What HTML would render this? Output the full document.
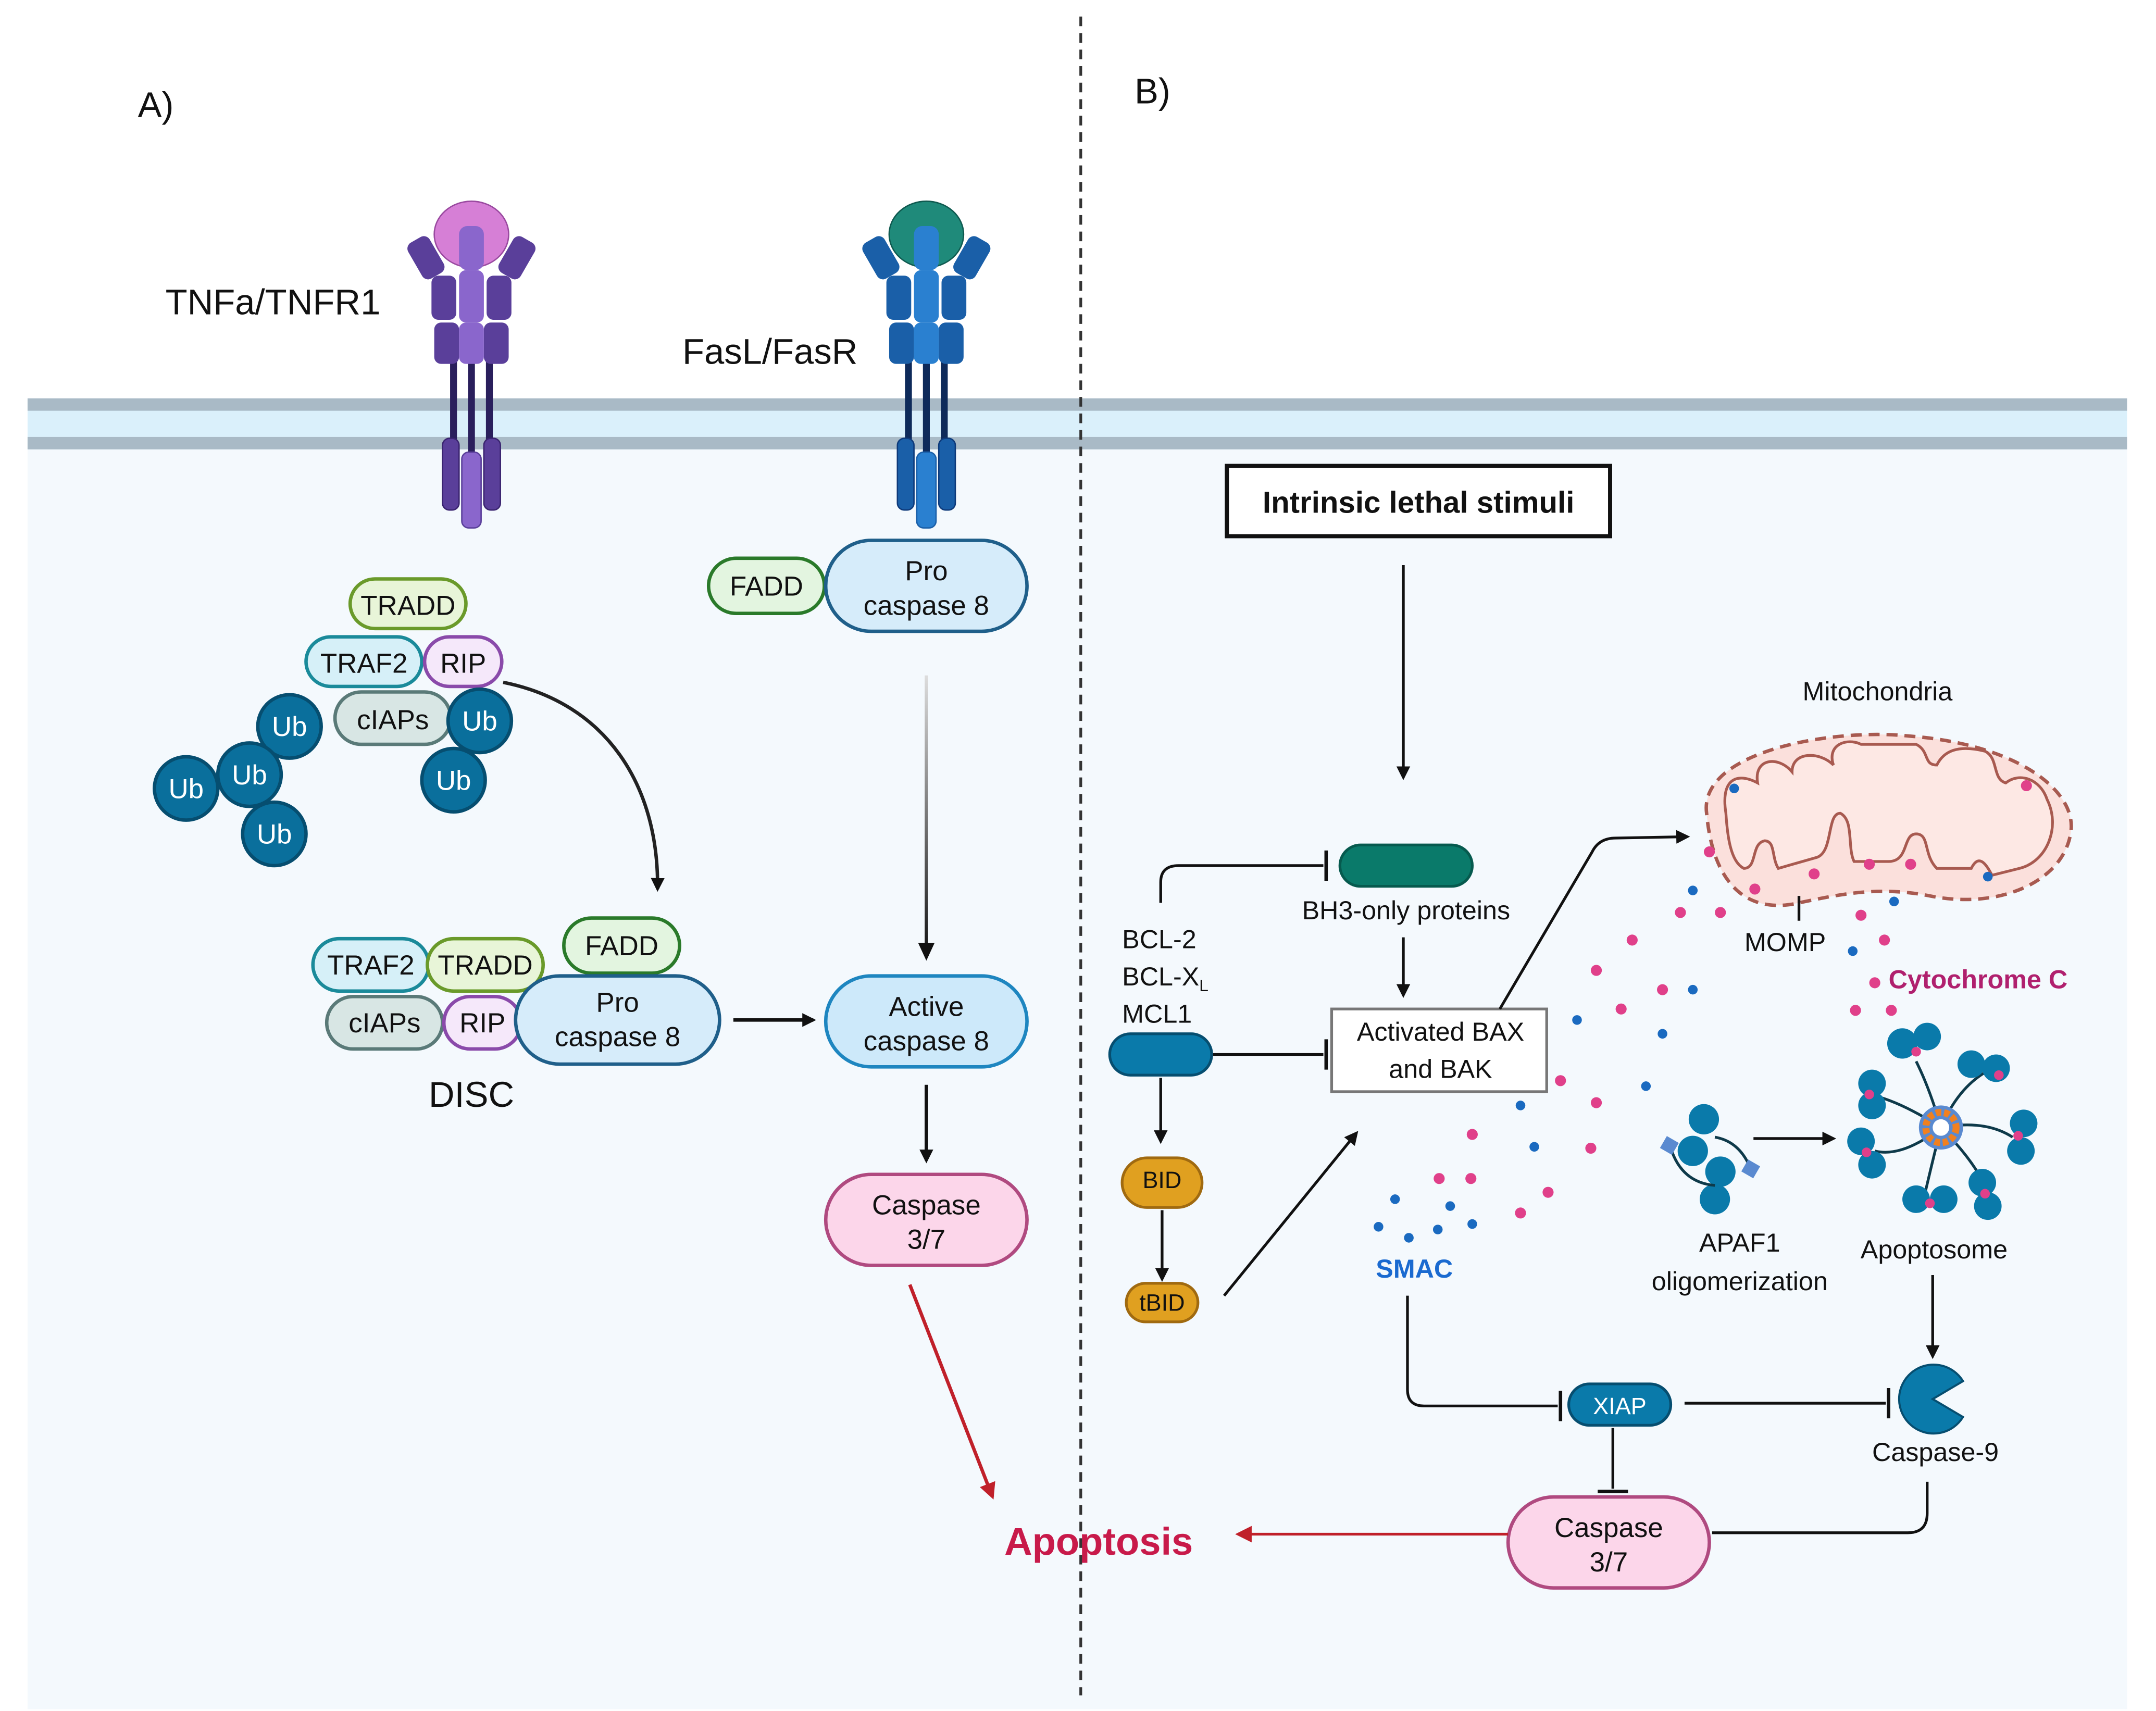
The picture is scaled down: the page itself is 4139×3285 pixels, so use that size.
<!DOCTYPE html>
<html><head><meta charset="utf-8"><style>
html,body{margin:0;padding:0;background:#fff}
svg{display:block}
text{font-family:"Liberation Sans",sans-serif;fill:#111}
</style></head><body>
<svg width="4139" height="3285" viewBox="0 0 1564 1241.3" xmlns="http://www.w3.org/2000/svg">
<defs>
<marker id="ah" markerWidth="10" markerHeight="10" refX="8" refY="5" orient="auto" markerUnits="userSpaceOnUse"><path d="M0,0 L10,5 L0,10 z" fill="#111"/></marker>
<marker id="ahr" markerWidth="12" markerHeight="12" refX="10" refY="6" orient="auto" markerUnits="userSpaceOnUse"><path d="M0,0 L12,6 L0,12 z" fill="#c0202a"/></marker>
<linearGradient id="gv" gradientUnits="userSpaceOnUse" x1="672" y1="490" x2="672" y2="695"><stop offset="0" stop-color="#ddd"/><stop offset="1" stop-color="#111"/></linearGradient>
</defs>
<rect x="0" y="0" width="1564" height="1242" fill="#fff"/>
<rect x="20" y="326" width="1523" height="914" fill="#f4f9fd"/>
<rect x="20" y="289" width="1523" height="37" fill="#daf0fb"/>
<rect x="20" y="289" width="1523" height="9" fill="#a9bac6"/>
<rect x="20" y="317" width="1523" height="9" fill="#a9bac6"/>
<line x1="784" y1="12" x2="784" y2="1230" stroke="#333" stroke-width="2" stroke-dasharray="7,5"/>

<text x="100" y="85" font-size="26">A)</text>
<text x="823" y="75" font-size="26">B)</text>
<text x="120" y="228" font-size="26">TNFa/TNFR1</text>
<text x="495" y="264" font-size="26">FasL/FasR</text>

<!-- TNFR1 -->
<g>
<line x1="329" y1="255" x2="329" y2="330" stroke="#2a1f5c" stroke-width="5"/>
<line x1="342" y1="255" x2="342" y2="330" stroke="#2a1f5c" stroke-width="5"/>
<line x1="355" y1="255" x2="355" y2="330" stroke="#2a1f5c" stroke-width="5"/>
<rect x="321" y="318" width="12" height="52" rx="5" fill="#5a3f9a" stroke="#3a2470"/>
<rect x="351" y="318" width="12" height="52" rx="5" fill="#5a3f9a" stroke="#3a2470"/>
<rect x="335" y="328" width="14" height="55" rx="5" fill="#8a66cc" stroke="#5a3f9a"/>
<rect x="300" y="172" width="18" height="30" rx="5" fill="#5a3f9a" transform="rotate(-30 309 187)"/>
<rect x="366" y="172" width="18" height="30" rx="5" fill="#5a3f9a" transform="rotate(30 375 187)"/>
<rect x="313" y="200" width="18" height="32" rx="5" fill="#5a3f9a"/>
<rect x="353" y="200" width="18" height="32" rx="5" fill="#5a3f9a"/>
<rect x="333" y="196" width="18" height="38" rx="5" fill="#8a66cc"/>
<rect x="315" y="234" width="18" height="30" rx="5" fill="#5a3f9a"/>
<rect x="351" y="234" width="18" height="30" rx="5" fill="#5a3f9a"/>
<rect x="333" y="234" width="18" height="30" rx="5" fill="#8a66cc"/>
<ellipse cx="342" cy="170" rx="27" ry="24" fill="#d67fd6" stroke="#9a4aa0"/>
<rect x="333" y="164" width="18" height="32" rx="6" fill="#8a66cc"/>
</g>
<!-- FasR -->
<g>
<line x1="659" y1="255" x2="659" y2="330" stroke="#0e2a5a" stroke-width="5"/>
<line x1="672" y1="255" x2="672" y2="330" stroke="#0e2a5a" stroke-width="5"/>
<line x1="685" y1="255" x2="685" y2="330" stroke="#0e2a5a" stroke-width="5"/>
<rect x="651" y="318" width="12" height="52" rx="5" fill="#1a5fa8" stroke="#0e3a7a"/>
<rect x="681" y="318" width="12" height="52" rx="5" fill="#1a5fa8" stroke="#0e3a7a"/>
<rect x="665" y="328" width="14" height="55" rx="5" fill="#2a80d0" stroke="#1a5fa8"/>
<rect x="630" y="172" width="18" height="30" rx="5" fill="#1a5fa8" transform="rotate(-30 639 187)"/>
<rect x="696" y="172" width="18" height="30" rx="5" fill="#1a5fa8" transform="rotate(30 705 187)"/>
<rect x="643" y="200" width="18" height="32" rx="5" fill="#1a5fa8"/>
<rect x="683" y="200" width="18" height="32" rx="5" fill="#1a5fa8"/>
<rect x="663" y="196" width="18" height="38" rx="5" fill="#2a80d0"/>
<rect x="645" y="234" width="18" height="30" rx="5" fill="#1a5fa8"/>
<rect x="681" y="234" width="18" height="30" rx="5" fill="#1a5fa8"/>
<rect x="663" y="234" width="18" height="30" rx="5" fill="#2a80d0"/>
<ellipse cx="672" cy="170" rx="27" ry="24" fill="#1f8a7a" stroke="#0f5a50"/>
<rect x="663" y="164" width="18" height="32" rx="6" fill="#2a80d0"/>
</g>

<!-- complex 1 -->
<g stroke-width="2.5" font-size="20" text-anchor="middle">
<rect x="254" y="420" width="84" height="36" rx="18" fill="#e8f5d8" stroke="#6a9a2a"/><text x="296" y="446">TRADD</text>
<rect x="222" y="462" width="84" height="36" rx="18" fill="#d6f0f8" stroke="#1a8a9a"/><text x="264" y="488">TRAF2</text>
<rect x="308" y="462" width="56" height="36" rx="18" fill="#f5e8fa" stroke="#8a4aaa"/><text x="336" y="488">RIP</text>
<rect x="243" y="502" width="84" height="38" rx="19" fill="#d8e6e4" stroke="#5a7a78"/><text x="285" y="529">cIAPs</text>
</g>
<g fill="#0a6f9c" stroke="#064e70" stroke-width="2.5">
<circle cx="210" cy="527" r="23"/><circle cx="348" cy="523" r="23"/><circle cx="181" cy="562" r="23"/><circle cx="135" cy="572" r="23"/><circle cx="329" cy="566" r="23"/><circle cx="199" cy="605" r="23"/>
</g>
<g font-size="20" text-anchor="middle">
<text x="210" y="534" style="fill:#fff">Ub</text><text x="348" y="530" style="fill:#fff">Ub</text><text x="181" y="569" style="fill:#fff">Ub</text><text x="135" y="579" style="fill:#fff">Ub</text><text x="329" y="573" style="fill:#fff">Ub</text><text x="199" y="612" style="fill:#fff">Ub</text>
</g>
<path d="M365,495 C440,510 478,570 477,645" fill="none" stroke="#222" stroke-width="2.5" marker-end="url(#ah)"/>

<!-- DISC -->
<g stroke-width="2.5" font-size="20" text-anchor="middle">
<rect x="227" y="681" width="84" height="38" rx="19" fill="#d6f0f8" stroke="#1a8a9a"/><text x="269" y="707">TRAF2</text>
<rect x="310" y="681" width="84" height="38" rx="19" fill="#e8f5d8" stroke="#6a9a2a"/><text x="352" y="707">TRADD</text>
<rect x="409" y="666" width="84" height="40" rx="20" fill="#e3f5e0" stroke="#2a7a2a"/><text x="451" y="693">FADD</text>
<rect x="237" y="723" width="84" height="38" rx="19" fill="#d8e6e4" stroke="#5a7a78"/><text x="279" y="749">cIAPs</text>
<rect x="322" y="723" width="56" height="38" rx="19" fill="#f5e8fa" stroke="#8a4aaa"/><text x="350" y="749">RIP</text>
<rect x="374" y="708" width="148" height="64" rx="32" fill="#d6ecfa" stroke="#1f5f8a"/><text x="448" y="734">Pro</text><text x="448" y="759">caspase 8</text>
</g>
<text x="342" y="803" font-size="26" text-anchor="middle">DISC</text>
<line x1="532" y1="740" x2="590" y2="740" stroke="#111" stroke-width="2.5" marker-end="url(#ah)"/>

<!-- Fas pathway -->
<g stroke-width="2.5" font-size="20" text-anchor="middle">
<rect x="514" y="405" width="84" height="40" rx="20" fill="#e3f5e0" stroke="#2a7a2a"/><text x="556" y="432">FADD</text>
<rect x="599" y="392" width="146" height="66" rx="33" fill="#d6ecfa" stroke="#1f5f8a"/><text x="672" y="421">Pro</text><text x="672" y="446">caspase 8</text>
<rect x="599" y="708" width="146" height="66" rx="33" fill="#cde9fa" stroke="#1e86c0"/><text x="672" y="737">Active</text><text x="672" y="762">caspase 8</text>
<rect x="599" y="852" width="146" height="66" rx="33" fill="#fcd6ea" stroke="#b04a80"/><text x="672" y="881">Caspase</text><text x="672" y="906">3/7</text>
</g>
<rect x="670.8" y="490" width="2.4" height="195" fill="url(#gv)"/>
<path d="M666,684 L672,697 L678,684 z" fill="#111"/>
<line x1="672" y1="787" x2="672" y2="842" stroke="#111" stroke-width="2.5" marker-end="url(#ah)"/>
<line x1="660" y1="932" x2="720" y2="1086" stroke="#c0202a" stroke-width="2.5" marker-end="url(#ahr)"/>
<text x="797" y="1128" font-size="28" font-weight="bold" text-anchor="middle" style="fill:#c81a4a">Apoptosis</text>

<!-- B -->
<rect x="890" y="338" width="278" height="51" fill="#fff" stroke="#111" stroke-width="3"/>
<text x="1029" y="372" font-size="22" font-weight="bold" text-anchor="middle">Intrinsic lethal stimuli</text>
<line x1="1018" y1="410" x2="1018" y2="564" stroke="#111" stroke-width="2" marker-end="url(#ah)"/>
<rect x="972" y="613" width="96" height="30" rx="15" fill="#0a7a6a" stroke="#065a4e" stroke-width="2"/>
<text x="1020" y="667" font-size="19" text-anchor="middle">BH3-only proteins</text>
<path d="M842,655 L842,640 Q842,628 855,628 L960,628" fill="none" stroke="#111" stroke-width="2"/>
<line x1="962" y1="617" x2="962" y2="639" stroke="#111" stroke-width="2.5"/>
<text x="814" y="688" font-size="19">BCL-2</text>
<text x="814" y="715" font-size="19">BCL-X<tspan font-size="12" dy="4">L</tspan></text>
<text x="814" y="742" font-size="19">MCL1</text>
<rect x="805" y="750" width="74" height="30" rx="15" fill="#0a7aaa" stroke="#064e70" stroke-width="2"/>
<line x1="880" y1="765" x2="960" y2="765" stroke="#111" stroke-width="2"/>
<line x1="962" y1="754" x2="962" y2="776" stroke="#111" stroke-width="2.5"/>
<rect x="966" y="732" width="156" height="60" fill="#fff" stroke="#777" stroke-width="2"/>
<text x="1045" y="755" font-size="19" text-anchor="middle">Activated BAX</text>
<text x="1045" y="782" font-size="19" text-anchor="middle">and BAK</text>
<line x1="1018" y1="680" x2="1018" y2="722" stroke="#111" stroke-width="2" marker-end="url(#ah)"/>
<line x1="842" y1="782" x2="842" y2="828" stroke="#111" stroke-width="2" marker-end="url(#ah)"/>
<rect x="814" y="840" width="58" height="36" rx="18" fill="#e0a020" stroke="#a06a10" stroke-width="2"/>
<text x="843" y="862" font-size="17" text-anchor="middle">BID</text>
<line x1="843" y1="878" x2="843" y2="928" stroke="#111" stroke-width="2" marker-end="url(#ah)"/>
<rect x="817" y="931" width="52" height="28" rx="14" fill="#e0a020" stroke="#a06a10" stroke-width="2"/>
<text x="843" y="951" font-size="17" text-anchor="middle">tBID</text>
<line x1="888" y1="940" x2="984" y2="822" stroke="#111" stroke-width="2" marker-end="url(#ah)"/>
<path d="M1088,732 L1155,618 Q1160,608 1172,608 L1224,607" fill="none" stroke="#111" stroke-width="2" marker-end="url(#ah)"/>

<!-- mitochondria -->
<path d="M1238,590 C1232,545 1330,528 1385,534 C1465,540 1508,575 1502,605 C1496,640 1450,660 1400,650 C1360,642 1330,650 1300,656 C1262,662 1242,635 1238,590 Z" fill="#fbe0dc" stroke="#a85a50" stroke-width="2.5" stroke-dasharray="8,5"/>
<path d="M1252,590 C1248,565 1260,560 1275,568 C1272,550 1290,548 1300,560 C1300,545 1320,545 1330,555 C1325,540 1340,535 1350,540 L1390,540 C1400,545 1395,555 1405,555 C1410,545 1420,540 1440,545 C1450,550 1445,565 1455,568 C1465,560 1480,565 1485,580 C1495,600 1485,625 1465,630 L1445,635 C1440,625 1435,620 1430,630 L1405,630 C1395,620 1400,605 1390,605 C1380,605 1385,625 1370,625 L1345,625 C1340,615 1345,595 1335,590 C1325,590 1330,618 1318,622 L1290,630 C1285,622 1288,610 1280,610 C1270,612 1275,630 1265,630 C1255,625 1253,605 1252,590 Z" fill="#fde8e4" stroke="#a85a50" stroke-width="2"/>
<text x="1362" y="508" font-size="19" text-anchor="middle">Mitochondria</text>
<line x1="1305" y1="650" x2="1305" y2="668" stroke="#111" stroke-width="2"/>
<text x="1295" y="690" font-size="19" text-anchor="middle">MOMP</text>
<text x="1370" y="717" font-size="19" font-weight="bold" style="fill:#b0206e">Cytochrome C</text>
<text x="1026" y="927" font-size="19" font-weight="bold" text-anchor="middle" style="fill:#1a6ad0">SMAC</text>

<g fill="#e0408a">
<circle cx="1240" cy="618" r="4"/><circle cx="1273" cy="645" r="4"/><circle cx="1316" cy="634" r="4"/><circle cx="1356" cy="627" r="4"/><circle cx="1386" cy="627" r="4"/><circle cx="1470" cy="570" r="4"/>
<circle cx="1219" cy="662" r="4"/><circle cx="1248" cy="662" r="4"/><circle cx="1350" cy="664" r="4"/><circle cx="1367" cy="682" r="4"/><circle cx="1360" cy="713" r="4"/><circle cx="1346" cy="733" r="4"/><circle cx="1372" cy="733" r="4"/>
<circle cx="1184" cy="682" r="4"/><circle cx="1158" cy="704" r="4"/><circle cx="1206" cy="718" r="4"/><circle cx="1176" cy="732" r="4"/><circle cx="1132" cy="784" r="4"/><circle cx="1158" cy="800" r="4"/><circle cx="1068" cy="823" r="4"/><circle cx="1154" cy="833" r="4"/><circle cx="1044" cy="855" r="4"/><circle cx="1067" cy="855" r="4"/><circle cx="1123" cy="865" r="4"/><circle cx="1103" cy="880" r="4"/>
</g>
<g fill="#1a6ac0">
<circle cx="1258" cy="572" r="3.5"/><circle cx="1442" cy="636" r="3.5"/><circle cx="1228" cy="646" r="3.5"/><circle cx="1374" cy="654" r="3.5"/><circle cx="1344" cy="690" r="3.5"/><circle cx="1228" cy="718" r="3.5"/><circle cx="1144" cy="740" r="3.5"/><circle cx="1206" cy="750" r="3.5"/><circle cx="1194" cy="788" r="3.5"/><circle cx="1103" cy="802" r="3.5"/><circle cx="1113" cy="832" r="3.5"/><circle cx="1012" cy="870" r="3.5"/><circle cx="1052" cy="875" r="3.5"/><circle cx="1000" cy="890" r="3.5"/><circle cx="1022" cy="898" r="3.5"/><circle cx="1043" cy="892" r="3.5"/><circle cx="1068" cy="888" r="3.5"/>
</g>

<!-- APAF1 -->
<g fill="#0a7aaa">
<circle cx="1236" cy="812" r="11"/><circle cx="1228" cy="835" r="11"/><circle cx="1248" cy="850" r="11"/><circle cx="1244" cy="870" r="11"/>
</g>
<path d="M1212,833 Q1220,858 1244,860 M1244,825 Q1262,828 1270,848" fill="none" stroke="#0e3a4a" stroke-width="2"/>
<rect x="1206" y="826" width="10" height="10" fill="#5a8ad0" transform="rotate(30 1211 831)"/>
<rect x="1265" y="843" width="10" height="10" fill="#5a8ad0" transform="rotate(30 1270 848)"/>
<text x="1262" y="908" font-size="19" text-anchor="middle">APAF1</text>
<text x="1262" y="936" font-size="19" text-anchor="middle">oligomerization</text>
<line x1="1272" y1="826" x2="1330" y2="826" stroke="#111" stroke-width="2" marker-end="url(#ah)"/>

<!-- Apoptosome -->
<g stroke="#0e3a4a" stroke-width="2" fill="none">
<path d="M1408,818 Q1400,790 1390,770"/><path d="M1408,818 Q1420,790 1440,778"/><path d="M1408,818 Q1440,812 1460,825"/><path d="M1408,818 Q1430,840 1440,860"/><path d="M1408,818 Q1400,850 1395,872"/><path d="M1408,818 Q1380,840 1360,835"/><path d="M1408,818 Q1380,800 1360,795"/>
</g>
<g fill="#0a7aaa">
<circle cx="1380" cy="757" r="11"/><circle cx="1398" cy="752" r="10"/><circle cx="1430" cy="772" r="10"/><circle cx="1448" cy="775" r="10"/><circle cx="1468" cy="815" r="10"/><circle cx="1466" cy="835" r="10"/><circle cx="1438" cy="858" r="10"/><circle cx="1442" cy="875" r="10"/><circle cx="1390" cy="870" r="10"/><circle cx="1410" cy="870" r="10"/><circle cx="1350" cy="828" r="10"/><circle cx="1358" cy="845" r="10"/><circle cx="1358" cy="786" r="10"/><circle cx="1358" cy="802" r="10"/>
</g>
<g fill="#e0408a">
<circle cx="1390" cy="763" r="3.5"/><circle cx="1450" cy="780" r="3.5"/><circle cx="1464" cy="824" r="3.5"/><circle cx="1440" cy="866" r="3.5"/><circle cx="1400" cy="873" r="3.5"/><circle cx="1354" cy="836" r="3.5"/><circle cx="1356" cy="794" r="3.5"/>
</g>
<circle cx="1408" cy="818" r="16" fill="#5a8ad0"/>
<circle cx="1408" cy="818" r="11" fill="none" stroke="#f08020" stroke-width="5" stroke-dasharray="4,2"/>
<circle cx="1408" cy="818" r="6" fill="#fff"/>
<text x="1403" y="913" font-size="19" text-anchor="middle">Apoptosome</text>
<line x1="1402" y1="925" x2="1402" y2="984" stroke="#111" stroke-width="2" marker-end="url(#ah)"/>
<path d="M1402,1015 L1424,1002 A25,25 0 1,0 1424,1028 Z" fill="#0a7aaa" stroke="#064e70" stroke-width="1.5"/>
<text x="1404" y="1060" font-size="19" text-anchor="middle">Caspase-9</text>

<path d="M1021,940 L1021,1008 Q1021,1020 1033,1020 L1130,1020" fill="none" stroke="#111" stroke-width="2"/>
<line x1="1132" y1="1009" x2="1132" y2="1031" stroke="#111" stroke-width="2.5"/>
<rect x="1138" y="1004" width="74" height="30" rx="15" fill="#0a7aaa" stroke="#064e70" stroke-width="2"/>
<text x="1175" y="1026" font-size="17" text-anchor="middle" style="fill:#fff">XIAP</text>
<line x1="1222" y1="1018" x2="1368" y2="1018" stroke="#111" stroke-width="2"/>
<line x1="1370" y1="1007" x2="1370" y2="1029" stroke="#111" stroke-width="2.5"/>
<line x1="1170" y1="1036" x2="1170" y2="1080" stroke="#111" stroke-width="2"/>
<line x1="1159" y1="1082" x2="1181" y2="1082" stroke="#111" stroke-width="2.5"/>
<rect x="1094" y="1086" width="146" height="66" rx="33" fill="#fcd6ea" stroke="#b04a80" stroke-width="2.5"/>
<text x="1167" y="1115" font-size="20" text-anchor="middle">Caspase</text>
<text x="1167" y="1140" font-size="20" text-anchor="middle">3/7</text>
<path d="M1398,1075 L1398,1098 Q1398,1112 1384,1112 L1242,1112" fill="none" stroke="#111" stroke-width="2"/>
<line x1="1094" y1="1113" x2="898" y2="1113" stroke="#c0202a" stroke-width="2" marker-end="url(#ahr)"/>
</svg>
</body></html>
